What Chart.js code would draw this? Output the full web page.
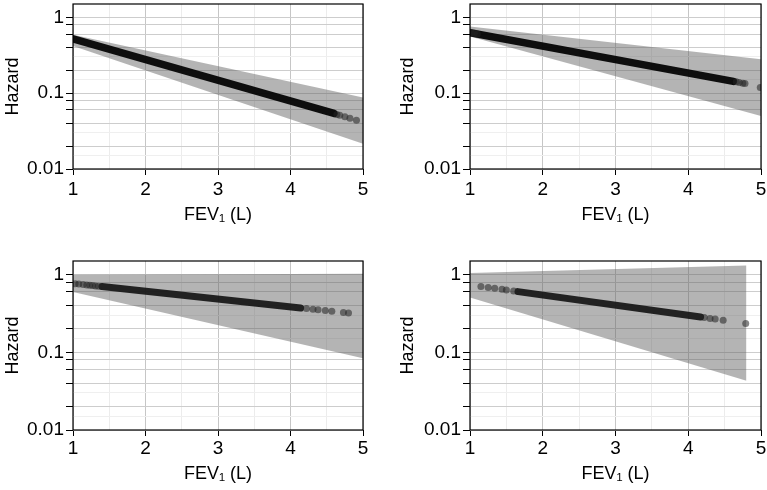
<!DOCTYPE html>
<html>
<head>
<meta charset="utf-8">
<script src="https://cdn.jsdelivr.net/npm/chart.js@4.4.1/dist/chart.umd.min.js"></script>
<style>
  html, body { margin: 0; padding: 0; background: #fff; }
  #wrap { position: relative; width: 767px; height: 490px; overflow: hidden; }
  canvas { position: absolute; }
</style>
</head>
<body>
<div id="wrap">
  <canvas id="p1" width="383" height="245" style="left:0;top:0"></canvas>
  <canvas id="p2" width="384" height="245" style="left:383px;top:0"></canvas>
  <canvas id="p3" width="383" height="245" style="left:0;top:245px"></canvas>
  <canvas id="p4" width="384" height="245" style="left:383px;top:245px"></canvas>
</div>
<script>
// ticks shared by the four panels
const fevTicks = [1, 1.5, 2, 2.5, 3, 3.5, 4, 4.5, 5];
const fevLabels = [1, 2, 3, 4, 5];
const hazardTicks = [0.01, 0.015, 0.02, 0.03, 0.04, 0.06, 0.08, 0.1, 0.15, 0.2, 0.3, 0.4, 0.6, 0.8, 1];
const hazardMinor = [0.015, 0.03, 0.15, 0.3];
const hazardLabels = [0.01, 0.1, 1];

// panel 1 (top left)
const bandX1 = [1, 5];
const bandUpper1 = [0.59, 0.0875];
const bandLower1 = [0.42, 0.0215];
const denseX1 = [1.0, 4.6];
const denseY1 = [0.52, 0.054];
const pointX1 = [4.64, 4.68, 4.75, 4.82, 4.91];
const pointY1 = [0.0524, 0.051, 0.0488, 0.0467, 0.0441];

// panel 2 (top right)
const bandX2 = [1, 5];
const bandUpper2 = [0.76, 0.28];
const bandLower2 = [0.56, 0.05];
const denseX2 = [1.0, 4.62];
const denseY2 = [0.63, 0.143];
const pointX2 = [1.02, 1.06, 1.1, 4.66, 4.7, 4.75, 4.78, 4.99];
const pointY2 = [0.625, 0.615, 0.605, 0.141, 0.138, 0.1355, 0.134, 0.119];

// panel 3 (bottom left)
const bandX3 = [1, 5];
const bandUpper3 = [1.0, 1.03];
const bandLower3 = [0.6, 0.084];
const denseX3 = [1.4, 4.14];
const denseY3 = [0.703, 0.372];
const pointX3 = [1.03, 1.08, 1.14, 1.19, 1.23, 1.27, 1.31, 1.35, 4.22, 4.31, 4.38, 4.48, 4.57, 4.73, 4.8];
const pointY3 = [0.765, 0.757, 0.747, 0.738, 0.731, 0.724, 0.717, 0.711, 0.366, 0.358, 0.353, 0.345, 0.338, 0.325, 0.32];

// panel 4 (bottom right)
const bandX4 = [1, 4.8];
const bandUpper4 = [1.05, 1.31];
const bandLower4 = [0.51, 0.043];
const denseX4 = [1.66, 4.17];
const denseY4 = [0.605, 0.285];
const pointX4 = [1.15, 1.25, 1.34, 1.44, 1.5, 1.6, 4.22, 4.3, 4.37, 4.48, 4.79];
const pointY4 = [0.706, 0.685, 0.667, 0.647, 0.636, 0.617, 0.28, 0.273, 0.268, 0.259, 0.235];

const FONT = 'Liberation Sans, Arial, Helvetica, sans-serif';

const pairs = (xs, ys) => xs.map((x, i) => ({ x: x, y: ys[i] }));

// black box round the plot area
const framePlugin = {
  id: 'frame',
  afterDatasetsDraw(chart) {
    const { ctx, chartArea: a } = chart;
    ctx.save();
    ctx.strokeStyle = '#000';
    ctx.lineWidth = 1.2;
    ctx.strokeRect(a.left, a.top, a.right - a.left, a.bottom - a.top);
    ctx.restore();
  }
};

function makePanel(id, d, lay) {
  return new Chart(document.getElementById(id), {
    type: 'scatter',
    data: {
      datasets: [
        {
          type: 'line',
          data: pairs(d.bandX, d.upper),
          borderColor: 'transparent',
          pointRadius: 0,
          fill: '+1',
          backgroundColor: 'rgba(95,95,95,0.47)',
          order: 3
        },
        {
          type: 'line',
          data: pairs(d.bandX, d.lower),
          borderColor: 'transparent',
          pointRadius: 0,
          fill: false,
          order: 3
        },
        {
          // the run of overlapping observations
          type: 'line',
          data: pairs(d.denseX, d.denseY),
          borderColor: d.denseColor,
          borderWidth: d.denseWidth,
          borderCapStyle: 'round',
          pointRadius: 0,
          fill: false,
          clip: 0,
          order: 2
        },
        {
          data: pairs(d.pointX, d.pointY),
          pointRadius: 3.5,
          backgroundColor: 'rgba(35,35,35,0.55)',
          borderWidth: 0,
          order: 1
        }
      ]
    },
    options: {
      responsive: false,
      animation: false,
      events: [],
      layout: { padding: lay.padding },
      plugins: { legend: { display: false }, tooltip: { enabled: false } },
      scales: {
        x: {
          type: 'linear',
          min: 1,
          max: 5,
          afterBuildTicks: s => { s.ticks = fevTicks.map(v => ({ value: v })); },
          afterFit: s => { s.height = lay.xh; s.paddingLeft = 0; s.paddingRight = 0; },
          border: { display: false },
          grid: {
            color: c => Number.isInteger(c.tick.value) ? '#c6c6c6' : '#ececec',
            tickColor: c => Number.isInteger(c.tick.value) ? '#000' : 'rgba(0,0,0,0)',
            tickLength: 6
          },
          ticks: {
            autoSkip: false,
            maxRotation: 0,
            padding: lay.xpad,
            color: '#000',
            font: { size: 19, family: FONT },
            callback: v => fevLabels.includes(v) ? String(v) : ''
          },
          title: { display: true, text: 'FEV\u2081 (L)', color: '#000', padding: 0, font: { size: 18, family: FONT } }
        },
        y: {
          type: 'logarithmic',
          min: 0.01,
          max: 1.5,
          afterBuildTicks: s => { s.ticks = hazardTicks.map(v => ({ value: v })); },
          afterFit: s => { s.width = lay.yw; s.paddingTop = 0; s.paddingBottom = 0; },
          border: { display: false },
          grid: {
            color: c => hazardMinor.includes(c.tick.value) ? '#efefef' : '#cdcdcd',
            tickColor: c => hazardMinor.includes(c.tick.value) ? 'rgba(0,0,0,0)' : '#000',
            tickLength: 7
          },
          ticks: {
            autoSkip: false,
            padding: 2,
            color: '#000',
            font: { size: 19, family: FONT },
            callback: v => hazardLabels.includes(v) ? String(v) : ''
          },
          title: { display: true, text: 'Hazard', color: '#000', padding: 0, font: { size: 18, family: FONT } }
        }
      }
    },
    plugins: [framePlugin]
  });
}

makePanel('p1',
  { bandX: bandX1, upper: bandUpper1, lower: bandLower1, denseX: denseX1, denseY: denseY1,
    pointX: pointX1, pointY: pointY1, denseColor: 'rgba(0,0,0,0.92)', denseWidth: 7.5 },
  { padding: { left: 2, right: 20, top: 1, bottom: 19 }, yw: 71, xh: 57, xpad: 3 });

makePanel('p2',
  { bandX: bandX2, upper: bandUpper2, lower: bandLower2, denseX: denseX2, denseY: denseY2,
    pointX: pointX2, pointY: pointY2, denseColor: 'rgba(0,0,0,0.92)', denseWidth: 7.5 },
  { padding: { left: 14, right: 6, top: 1, bottom: 19 }, yw: 73, xh: 57, xpad: 3 });

makePanel('p3',
  { bandX: bandX3, upper: bandUpper3, lower: bandLower3, denseX: denseX3, denseY: denseY3,
    pointX: pointX3, pointY: pointY3, denseColor: 'rgba(15,15,15,0.88)', denseWidth: 7 },
  { padding: { left: 2, right: 20, top: 16, bottom: 5 }, yw: 71, xh: 55, xpad: 1 });

makePanel('p4',
  { bandX: bandX4, upper: bandUpper4, lower: bandLower4, denseX: denseX4, denseY: denseY4,
    pointX: pointX4, pointY: pointY4, denseColor: 'rgba(15,15,15,0.88)', denseWidth: 7 },
  { padding: { left: 14, right: 6, top: 16, bottom: 5 }, yw: 73, xh: 55, xpad: 1 });
</script>
</body>
</html>
